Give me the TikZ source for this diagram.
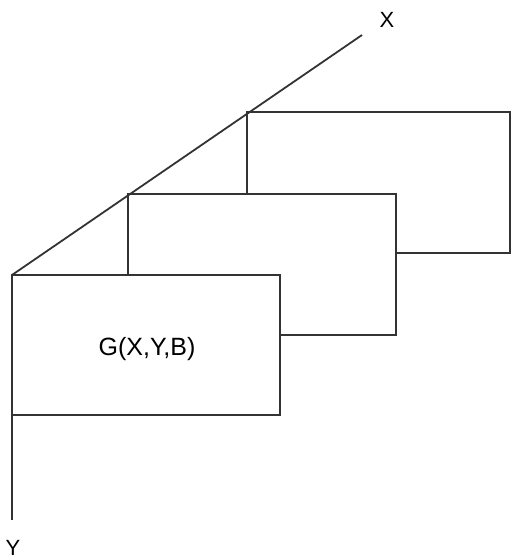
\documentclass[tikz,border=0pt]{standalone}
\usepackage{fontspec}
\setmainfont{Liberation Sans}
\usetikzlibrary{calc}

\begin{document}
\begin{tikzpicture}[x=1pt,y=-1pt,
    line/.style={draw=black!80,line width=1.8pt},
    panel/.style={line,fill=white},
    axislabel/.style={font=\fontsize{22}{26}\selectfont}]
  \useasboundingbox (0,0) rectangle (511,560);
  \coordinate (O) at (12,275);
  \coordinate (xend) at (362,35);
  \coordinate (yend) at (12,520);
  % planes, back to front
  \draw[panel] (247,112) rectangle (510,253);
  \draw[panel] (128,194) rectangle (396,335);
  \draw[panel] (O) rectangle (280,415);
  % axes
  \draw[line] (O) -- (xend);
  \draw[line] (O) -- (yend);
  \node[axislabel] (xlab) at (387,20) {X};
  \node[axislabel] (ylab) at (13,548) {Y};
  \node[font=\fontsize{25}{29}\selectfont] (g) at (147,349) {G(X,Y,B)};
\end{tikzpicture}
\end{document}
